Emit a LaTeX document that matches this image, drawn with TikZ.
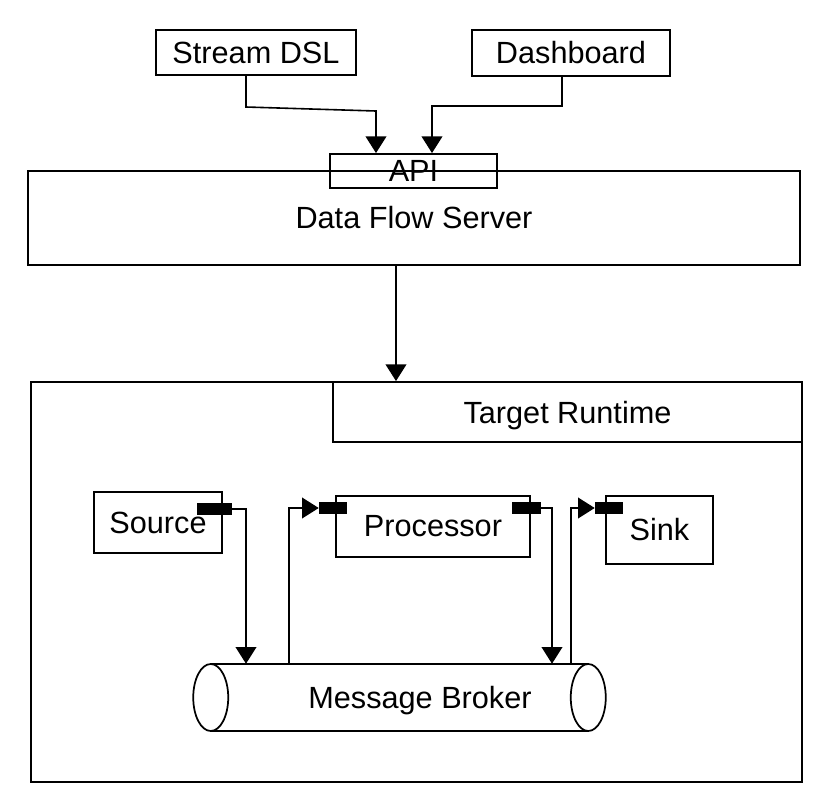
\documentclass[tikz,border=0pt]{standalone}
\usepackage{fontspec}
\setmainfont{Liberation Sans}
\usetikzlibrary{arrows.meta}
\tikzset{
  sz/.style 2 args={minimum width=#1*0.75pt, minimum height=#2*0.75pt},
  box/.style={draw, line width=1.4pt, inner sep=0pt, fill=white},
  port/.style={fill=black, draw=none, inner sep=0pt},
  arr/.style={line width=1.2pt, -{Triangle[length=12.5pt,width=15.5pt]}},
  lbl/.style={font=\fontsize{23}{27}\selectfont}
}
\begin{document}
\begin{tikzpicture}[x=0.75pt,y=-0.75pt]
\useasboundingbox (0,0) rectangle (819,804);
% top clients
\node[box, sz={200}{45}, lbl] (dsl) at (256,52.5) {Stream DSL};
\node[box, sz={198}{46}, lbl] (dash) at (571,53) {Dashboard};
% data flow server
\node[box, sz={772}{94}, lbl] (dfs) at (414,218) {Data Flow Server};
\node[box, sz={167}{34}, lbl, fill=none] (api) at (413.5,171) {API};
% runtime
\node[box, sz={771}{400}] (rt) at (416.5,582) {};
\node[box, sz={469}{60}, lbl, text depth=0pt] (tr) at (567.5,412) {Target Runtime};
% apps
\node[box, sz={128}{61}, lbl] (src) at (158,522.5) {Source};
\node[box, sz={194}{61}, lbl] (proc) at (433,526.5) {Processor};
\node[box, sz={107}{68}, lbl] (sink) at (659.5,530) {Sink};
% ports
\node[port, sz={35}{12}] (sp) at (214.5,509) {};
\node[port, sz={28}{12}] (pin) at (333,508) {};
\node[port, sz={29}{12}] (pout) at (526.5,508) {};
\node[port, sz={28}{12}] (sin) at (609,508) {};
% message broker
\node[sz={377}{67}, inner sep=0pt] (mb) at (399.5,697.5) {};
\draw[line width=1.3pt] (mb.north west) -- (mb.north east)
  (mb.south west) -- (mb.south east);
\draw[line width=1.3pt] (mb.west) ellipse [x radius=17.5*0.75pt, y radius=33.5*0.75pt];
\draw[line width=1.3pt] (mb.east) ellipse [x radius=17.5*0.75pt, y radius=33.5*0.75pt];
\node[lbl, text depth=0pt] (mbl) at (420,697) {Message Broker};
% connector coordinates
\coordinate (k1) at (246,107);
\coordinate (k2) at (376,111);
\coordinate (k3) at (562,106);
\coordinate (k4) at (432,106);
\coordinate (k5) at (396,0);
\coordinate (k6) at (246,0);
\coordinate (k7) at (289,0);
\coordinate (k8) at (552,0);
\coordinate (k9) at (571,0);
% connectors
\draw[arr] (dsl.south -| k1) -- (k1) -- (k2) -- (api.north -| k2);
\draw[arr] (dash.south -| k3) -- (k3) -- (k4) -- (api.north -| k4);
\draw[arr] (dfs.south -| k5) -- (rt.north -| k5);
\draw[arr] (sp.east) -| (mb.north -| k6);
\draw[arr] (mb.north -| k7) |- (pin.west);
\draw[arr] (pout.east) -| (mb.north -| k8);
\draw[arr] (mb.north -| k9) |- (sin.west);
\end{tikzpicture}
\end{document}
